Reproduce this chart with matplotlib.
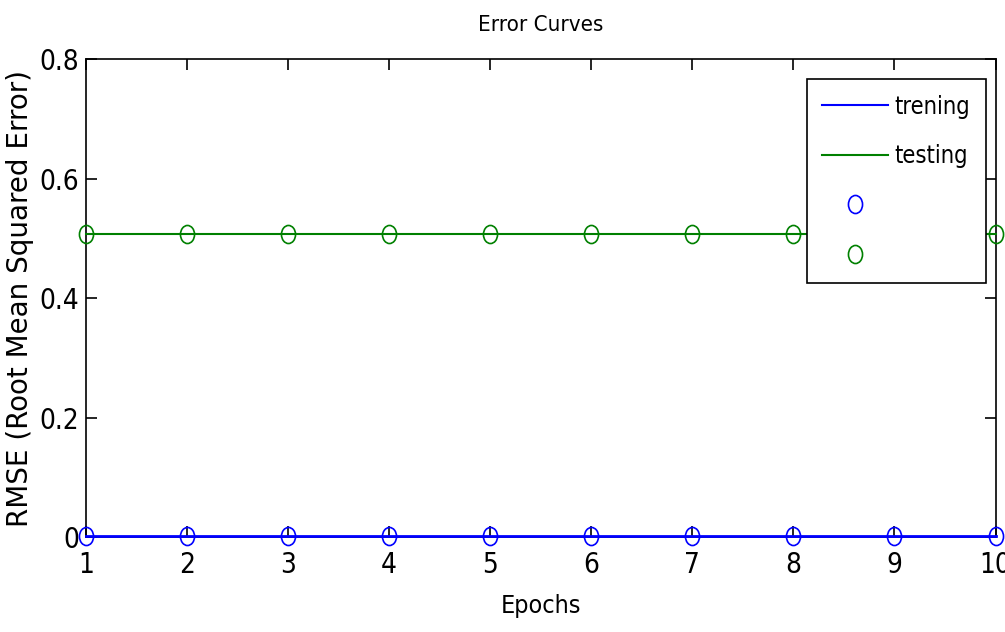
import matplotlib.pyplot as plt
from matplotlib.lines import Line2D
from matplotlib.path import Path
from matplotlib.transforms import Affine2D

epochs = [1, 2, 3, 4, 5, 6, 7, 8, 9, 10]
train_rmse = [0.002, 0.002, 0.002, 0.002, 0.002, 0.002, 0.002, 0.002, 0.002, 0.002]
test_rmse = [0.508, 0.508, 0.508, 0.508, 0.508, 0.508, 0.508, 0.508, 0.508, 0.508]
y_ticks = [0, 0.2, 0.4, 0.6, 0.8]
y_ticklabels = ['0', '0.2', '0.4', '0.6', '0.8']

plt.rcParams['font.family'] = ['DejaVu Sans']
plt.rcParams['font.stretch'] = 'condensed'

# circles in the original look a bit taller than wide
oval = Path.unit_circle().transformed(Affine2D().scale(0.78, 1.0))

fig = plt.figure(figsize=(10.05, 6.32), dpi=100)
ax = fig.add_axes([0.0856, 0.150, 0.905, 0.7565])

ax.plot(epochs, train_rmse, color='#0000ff', lw=2.0, zorder=3, clip_on=False)
ax.plot(epochs, test_rmse, color='#008000', lw=1.5, zorder=3, clip_on=False)
ax.plot(epochs, train_rmse, ls='none', marker=oval, mfc='none', mec='#0000ff', ms=13, mew=1.2, zorder=4, clip_on=False)
ax.plot(epochs, test_rmse, ls='none', marker=oval, mfc='none', mec='#008000', ms=13, mew=1.2, zorder=4, clip_on=False)

ax.set_xlim(1, 10)
ax.set_ylim(0, 0.8)
ax.set_xticks(epochs)
ax.set_yticks(y_ticks)
ax.set_yticklabels(y_ticklabels)
ax.tick_params(direction='in', length=8, width=1.2, top=True, right=True, labelsize=20)
ax.tick_params(axis='x', pad=10)
ax.tick_params(axis='y', pad=5)
for s in ax.spines.values():
    s.set_linewidth(1.2)

ax.set_title('Error Curves', fontsize=16, pad=20)
ax.set_xlabel('Epochs', fontsize=18, labelpad=11)
ax.set_ylabel('RMSE (Root Mean Squared Error)', fontsize=20, stretch='normal')
ax.yaxis.set_label_coords(-0.057, 0.5)

handles = [
    Line2D([], [], color='#0000ff', lw=1.5),
    Line2D([], [], color='#008000', lw=1.5),
    Line2D([], [], ls='none', marker=oval, mfc='none', mec='#0000ff', ms=13, mew=1.2),
    Line2D([], [], ls='none', marker=oval, mfc='none', mec='#008000', ms=13, mew=1.2),
]
leg = ax.legend(handles, ['trening', 'testing', '', ''], loc='upper right',
                bbox_to_anchor=(0.989, 0.958), borderaxespad=0, fontsize=17,
                frameon=True, fancybox=False, edgecolor='black', framealpha=1,
                handlelength=2.8, labelspacing=1.08, borderpad=0.66,
                handletextpad=0.25)
leg.get_frame().set_linewidth(1.2)

plt.savefig('out.png', dpi=100)
